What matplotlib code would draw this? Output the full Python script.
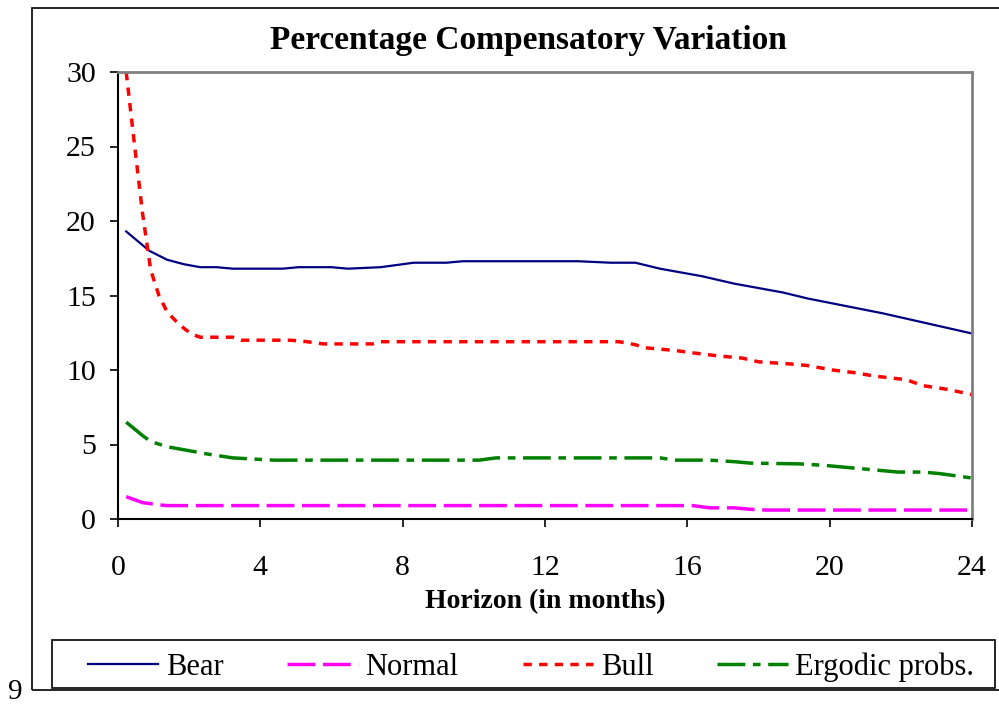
import matplotlib.pyplot as plt
from matplotlib.patches import Rectangle

# values (horizon in months)
bear_x = [0.23, 0.88, 1.38, 1.85, 2.31, 2.77, 3.23, 4.62, 5.08, 6.0, 6.46, 7.38, 8.31, 9.23, 9.69,
          12.92, 13.85, 14.54, 15.23, 16.4, 17.31, 18.69, 19.38, 21.5, 24.0]
bear_y = [19.3, 18.0, 17.4, 17.1, 16.9, 16.9, 16.8, 16.8, 16.9, 16.9, 16.8, 16.9, 17.2, 17.2, 17.3,
          17.3, 17.2, 17.2, 16.8, 16.3, 15.8, 15.2, 14.8, 13.8, 12.45]

normal_x = [0.23, 0.69, 1.15, 1.38, 15.69, 16.15, 16.62, 17.31, 17.77, 18.23, 24.0]
normal_y = [1.5, 1.1, 0.95, 0.9, 0.9, 0.9, 0.75, 0.75, 0.65, 0.6, 0.6]

bull_x = [0.23, 0.46, 0.69, 0.92, 1.15, 1.38, 1.62, 1.85, 2.08, 2.31, 3.23, 3.46, 4.85, 5.31, 5.77,
          7.15, 7.38, 14.08, 14.54, 14.77, 15.69, 16.15, 16.85, 17.54, 18.0, 18.92, 19.38, 20.08,
          20.77, 21.23, 22.15, 22.62, 23.31, 24.0]
bull_y = [30.0, 25.2, 20.5, 16.7, 15.0, 13.9, 13.3, 12.8, 12.4, 12.2, 12.2, 12.0, 12.0, 11.9, 11.75,
          11.75, 11.9, 11.9, 11.7, 11.5, 11.3, 11.15, 10.95, 10.8, 10.55, 10.4, 10.3, 10.0,
          9.8, 9.6, 9.35, 8.95, 8.7, 8.35]

ergodic_x = [0.23, 0.69, 0.92, 1.38, 2.54, 3.23, 4.38, 10.15, 10.62, 15.23, 15.69, 16.62, 17.31,
             17.77, 19.15, 19.85, 20.54, 21.23, 21.92, 22.62, 23.08, 24.0]
ergodic_y = [6.5, 5.6, 5.2, 4.85, 4.35, 4.1, 3.95, 3.95, 4.1, 4.1, 3.95, 3.95, 3.85,
             3.75, 3.7, 3.6, 3.45, 3.3, 3.15, 3.15, 3.05, 2.75]

x_ticks = [0, 4, 8, 12, 16, 20, 24]
y_ticks = [0, 5, 10, 15, 20, 25, 30]

plt.rcParams['font.family'] = ['Liberation Serif', 'DejaVu Serif']

fig = plt.figure(figsize=(9.99, 7.07), dpi=100)
ax = fig.add_axes([118/999, 1-519/707, (972-118)/999, (519-72)/707])

lw = 2.5
ax.plot(bear_x, bear_y, color='#000080', lw=1.6, label='Bear', clip_on=False)
ax.plot(normal_x, normal_y, color='#FF00FF', lw=lw, ls=(0, (8, 2.2)), label='Normal', clip_on=False)
ax.plot(bull_x, bull_y, color='#FF0000', lw=lw, ls=(0, (2.4, 2.1)), label='Bull', clip_on=False)
ax.plot(ergodic_x, ergodic_y, color='#008000', lw=lw, ls=(0, (8, 2.2, 2.2, 2.2)),
        label='Ergodic probs.', clip_on=False)

ax.set_xlim(0, 24)
ax.set_ylim(0, 30)
ax.set_xticks(x_ticks)
ax.set_yticks(y_ticks)
ax.tick_params(direction='out', length=6, width=1.2, labelsize=21.5, pad=10)
ax.tick_params(axis='x', pad=20)

for s in ['left', 'bottom']:
    ax.spines[s].set_color('black')
    ax.spines[s].set_linewidth(1.5)
for s in ['top', 'right']:
    ax.spines[s].set_color('#808080')
    ax.spines[s].set_linewidth(2)

ax.set_xlabel('Horizon (in months)', fontsize=20, fontweight='bold', labelpad=6)
fig.text(528/999, 1-41/707, 'Percentage Compensatory Variation', ha='center', va='center',
         fontsize=24, fontweight='bold')

# chart border and stray page number
fig.patches.append(Rectangle((32/999, 1-690/707), 1.0, (690-8)/707, transform=fig.transFigure,
                             fill=False, ec='black', lw=1.2))
fig.text(15/999, 1-692/707, '9', ha='center', va='center', fontsize=21)

# legend box
fig.patches.append(Rectangle((52/999, 1-688/707), (995-52)/999, 48/707, transform=fig.transFigure,
                             fill=False, ec='black', lw=1.2))
leg = fig.legend(loc='center', bbox_to_anchor=(531/999, 1-667/707),
                 ncol=4, fontsize=22, frameon=False,
                 handlelength=2.3, handletextpad=0.25, columnspacing=2.1, borderaxespad=0)

fig.savefig('out.png', dpi=100)
